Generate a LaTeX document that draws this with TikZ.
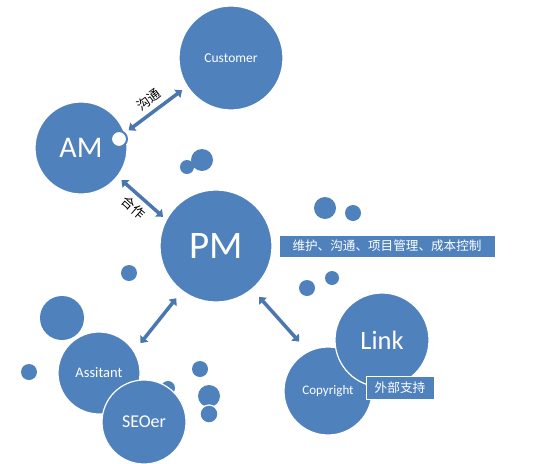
\documentclass[tikz,border=0pt]{standalone}
\usepackage{fontspec}
\setmainfont{Carlito}
\newfontfamily\cjk{Noto Sans CJK SC}
\usetikzlibrary{arrows.meta}
\definecolor{ob}{HTML}{4F81BD}
\begin{document}
\begin{tikzpicture}[x=1pt,y=-1pt,
  bub/.style={circle,fill=ob,draw=white,line width=1.2pt,inner sep=0pt,minimum size=#1,text=white},
  dot/.style={circle,fill=ob,inner sep=0pt,minimum size=#1},
  dbl/.style={draw=ob!92!black,line width=3.5pt,{Triangle[width=10pt,length=6pt]}-{Triangle[width=10pt,length=6pt]}},
  lab/.style={fill=ob,draw=white,line width=1pt,text=white,inner sep=2pt},
  cjklab/.style={font=\cjk\fontsize{13}{15}\selectfont,text=black,inner sep=1pt}]
\useasboundingbox (0,0) rectangle (537,463);
\node[bub=104pt,font=\fontsize{13.5}{16}\selectfont] (cust) at (231,58) {Customer};
\node[bub=92pt,font=\fontsize{30}{34}\selectfont] (am) at (81,148) {AM};
\node[circle,fill=white,draw=ob,line width=2pt,minimum size=16pt,inner sep=0pt] (amc) at (119,139) {};
\node[dot=14pt] (d1) at (187,167) {};
\node[dot=22pt] (d2) at (202,160) {};
\node[bub=112pt,font=\fontsize{39}{44}\selectfont] (pm) at (216,246) {PM};
\node[lab,minimum width=216pt,minimum height=22pt,font=\cjk\fontsize{12.6}{14}\selectfont] (pmlab) at (387,246) {维护、沟通、项目管理、成本控制};
\node[dot=22pt] (d3) at (325,208) {};
\node[dot=16pt] (d4) at (353,213) {};
\node[dot=14pt] (d5) at (332,278) {};
\node[dot=16pt] (d6) at (307,288) {};
\node[dot=16pt] (d7) at (129,273) {};
\node[dot=44pt] (d8) at (62,318) {};
\node[dot=16pt] (d9) at (29,372) {};
\node[dot=14pt] (d10) at (168,388) {};
\node[bub=82pt,font=\fontsize{14.5}{17}\selectfont] (ast) at (99,373) {Assitant};
\node[bub=84pt,font=\fontsize{18}{21}\selectfont] (seo) at (144,422) {SEOer};
\node[dot=16pt] (d11) at (200,369) {};
\node[dot=22pt] (d12) at (209,396) {};
\node[bub=18pt] (d13) at (209,414) {};
\node[bub=88pt,font=\fontsize{13}{15}\selectfont] (copy) at (328,391) {Copyright};
\node[bub=94pt,font=\fontsize{26.5}{30}\selectfont] (link) at (382,340) {Link};
\node[lab,minimum width=68pt,minimum height=23pt,font=\cjk\fontsize{12.7}{14}\selectfont] (ext) at (400,388) {外部支持};
\draw[dbl,shorten <=4pt,shorten >=6pt] (amc.45) -- node[sloped,above=4pt,cjklab] (t1) {沟通} (cust.213);
\draw[dbl,shorten <=5pt,shorten >=4pt] (am.-38) -- node[sloped,below=4pt,cjklab] (t2) {合作} (pm.152);
\draw[dbl,shorten <=9pt,shorten >=10pt] (pm.233) -- (ast.32);
\draw[dbl,shorten <=10pt,shorten >=13pt] (pm.-50) -- (copy.117);
\end{tikzpicture}
\end{document}
